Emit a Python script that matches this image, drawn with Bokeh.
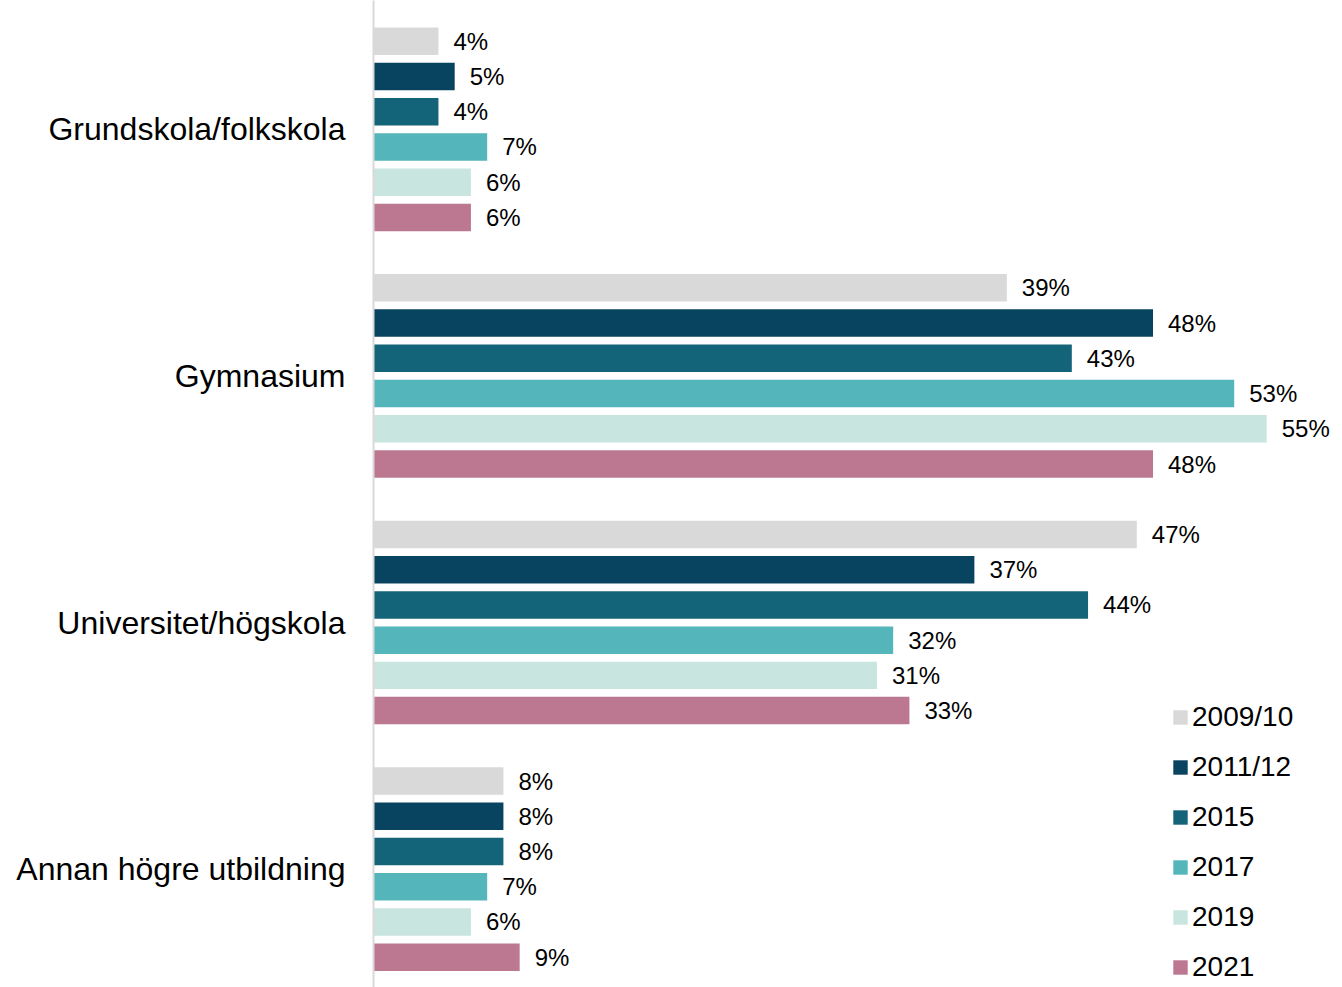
from bokeh.plotting import figure
from bokeh.models import ColumnDataSource, Range1d, FixedTicker, Legend, LegendItem
from bokeh.core.properties import value
from bokeh.embed import file_html
from bokeh.resources import INLINE

categories = ["Grundskola/folkskola", "Gymnasium", "Universitet/högskola", "Annan högre utbildning"]
years = ["2009/10", "2011/12", "2015", "2017", "2019", "2021"]
v2009 = [4, 39, 47, 8]
v2011 = [5, 48, 37, 8]
v2015 = [4, 43, 44, 8]
v2017 = [7, 53, 32, 7]
v2019 = [6, 55, 31, 6]
v2021 = [6, 48, 33, 9]
series = [v2009, v2011, v2015, v2017, v2019, v2021]
colors = ["#D9D9D9", "#08435F", "#146479", "#54B5BA", "#C9E5DF", "#BC7891"]

FONT = "Liberation Sans"
SLOT = 7  # 6 bars + one gap per group

p = figure(width=1342, height=987, output_backend="svg", toolbar_location=None,
           x_axis_location=None, min_border_left=373, min_border_right=0,
           min_border_top=0, min_border_bottom=0,
           x_range=Range1d(0, 969 / 16.24), y_range=Range1d(-26.86, 1.157))
p.outline_line_color = None
p.xgrid.visible = False
p.ygrid.visible = False
p.background_fill_color = "white"

items = []
for i, (yr, vals, col) in enumerate(zip(years, series, colors)):
    ys = [-(g * SLOT + i) for g in range(len(categories))]
    src = ColumnDataSource(dict(y=ys, right=vals, text=[f"{v}%" for v in vals]))
    r = p.hbar(y="y", right="right", left=0, height=0.78, source=src,
               fill_color=col, line_color=None)
    p.text(x="right", y="y", text="text", source=src, x_offset=15,
           text_baseline="middle", text_align="left",
           text_font=value(FONT), text_font_size="24px", text_color="black")
    items.append(LegendItem(label=yr, renderers=[r]))

ticks = [-(g * SLOT + 2.5) for g in range(len(categories))]
p.yaxis.ticker = FixedTicker(ticks=ticks)
p.yaxis.major_label_overrides = {t: c for t, c in zip(ticks, categories)}
p.yaxis.major_label_text_font = FONT
p.yaxis.major_label_text_font_size = "32px"
p.yaxis.major_label_text_color = "black"
p.yaxis.major_label_standoff = 22
p.yaxis.major_tick_line_color = None
p.yaxis.minor_tick_line_color = None
p.yaxis.axis_line_color = "#D9D9D9"
p.yaxis.axis_line_width = 2

legend = Legend(items=items, location=(798, 4), orientation="vertical",
                glyph_width=18, glyph_height=18, label_standoff=3,
                label_text_font=FONT, label_text_font_size="28px",
                label_text_color="black", spacing=18, padding=0, margin=0,
                border_line_color=None, background_fill_alpha=0)
p.add_layout(legend, "center")

open("out.html", "w").write(file_html(p, INLINE))
